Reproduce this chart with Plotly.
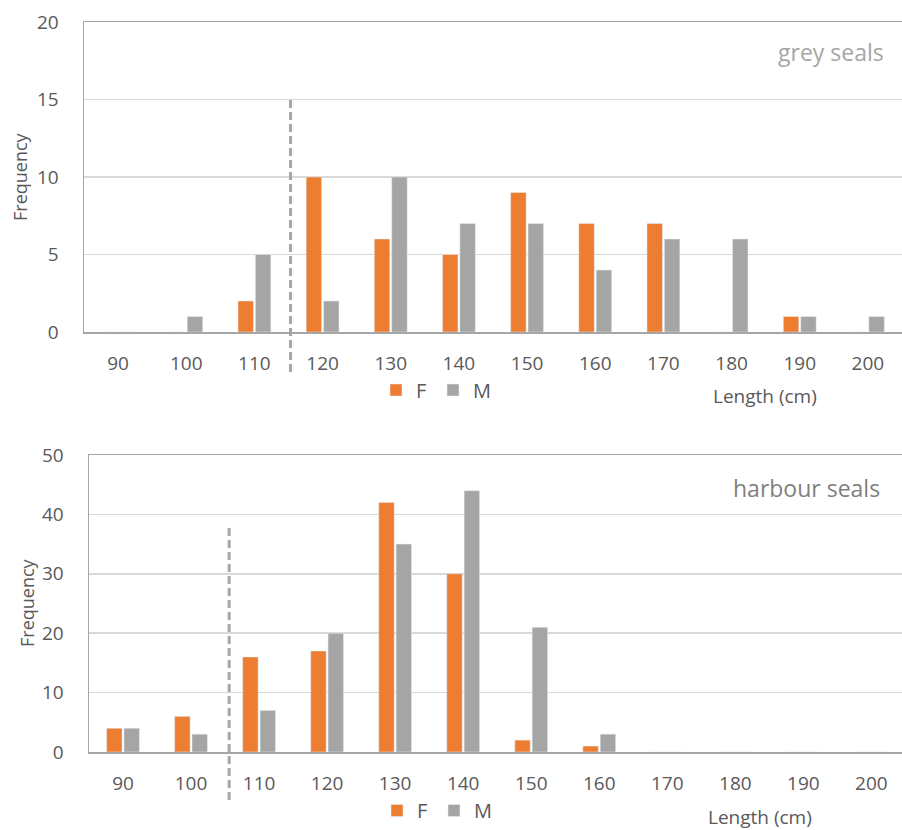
import plotly.graph_objects as go

lengths = ["90", "100", "110", "120", "130", "140", "150", "160", "170", "180", "190", "200"]
grey_F = [0, 0, 2, 10, 6, 5, 9, 7, 7, 0, 1, 0]
grey_M = [0, 1, 5, 2, 10, 7, 7, 4, 6, 6, 1, 1]
harb_F = [4, 6, 16, 17, 42, 30, 2, 1, 0, 0, 0, 0]
harb_M = [4, 3, 7, 20, 35, 44, 21, 3, 0, 0, 0, 0]

ORANGE = "#ED7D31"
GREY = "#A5A5A5"
TXT = "#595959"
FONT = "Open Sans"
W, H = 902, 830


def xp(px):
    return px / W


def yp(py):
    return 1 - py / H


fig = go.Figure()
fig.add_trace(go.Bar(x=lengths, y=grey_F, name="F", marker_color=ORANGE, xaxis="x", yaxis="y", legend="legend"))
fig.add_trace(go.Bar(x=lengths, y=grey_M, name="M", marker_color=GREY, xaxis="x", yaxis="y", legend="legend"))
fig.add_trace(go.Bar(x=lengths, y=harb_F, name="F", marker_color=ORANGE, xaxis="x2", yaxis="y2", legend="legend2"))
fig.add_trace(go.Bar(x=lengths, y=harb_M, name="M", marker_color=GREY, xaxis="x2", yaxis="y2", legend="legend2"))

xcommon = dict(
    type="category", showgrid=False, showline=True, mirror=True,
    linecolor="#A6A6A6", linewidth=1.5, ticks="", tickfont=dict(size=19, color=TXT, family=FONT),
    ticklabelstandoff=14, fixedrange=True, automargin=False,
)
ycommon = dict(
    showgrid=True, gridcolor="#D9D9D9", gridwidth=1.5, showline=True, linecolor="#A6A6A6",
    linewidth=1.5, zeroline=False, ticks="", tickfont=dict(size=19, color=TXT, family=FONT),
    ticklabelstandoff=20, fixedrange=True, automargin=False,
)
legcommon = dict(orientation="h", xanchor="center", font=dict(size=20, color=TXT, family=FONT),
                 itemwidth=30, entrywidth=12, bgcolor="rgba(0,0,0,0)", borderwidth=0)

fig.update_layout(
    width=W, height=H,
    margin=dict(l=0, r=0, t=0, b=0, autoexpand=False),
    paper_bgcolor="white", plot_bgcolor="white",
    font=dict(family=FONT, color=TXT),
    barmode="group", bargap=0.49, bargroupgap=0.11,
    xaxis=dict(xcommon, domain=[xp(84), 1.0], range=[-0.5, 11.5], anchor="y"),
    yaxis=dict(ycommon, domain=[yp(332), yp(22)], range=[0, 20], dtick=5, anchor="x"),
    xaxis2=dict(xcommon, domain=[xp(89), 1.0], range=[-0.5, 11.45], anchor="y2"),
    yaxis2=dict(ycommon, domain=[yp(752), yp(455)], range=[0, 50], dtick=10, anchor="x2"),
    legend=dict(legcommon, x=xp(433), y=yp(390), yanchor="middle"),
    legend2=dict(legcommon, x=xp(434), y=0.0, yanchor="bottom"),
    showlegend=True,
)

annotations = [
    dict(text="Frequency", x=xp(20), y=yp(177), xref="paper", yref="paper", textangle=-90,
         showarrow=False, font=dict(size=18, color=TXT, family=FONT), xanchor="center", yanchor="middle"),
    dict(text="Frequency", x=xp(27), y=yp(603), xref="paper", yref="paper", textangle=-90,
         showarrow=False, font=dict(size=18, color=TXT, family=FONT), xanchor="center", yanchor="middle"),
    dict(text="Length (cm)", x=xp(765), y=yp(396), xref="paper", yref="paper",
         showarrow=False, font=dict(size=19, color=TXT, family=FONT), xanchor="center", yanchor="middle"),
    dict(text="Length (cm)", x=xp(760), y=yp(817), xref="paper", yref="paper",
         showarrow=False, font=dict(size=19, color=TXT, family=FONT), xanchor="center", yanchor="middle"),
    dict(text="grey seals", x=xp(886), y=yp(52), xref="paper", yref="paper",
         showarrow=False, font=dict(size=23, color="#A6A6A6", family=FONT), xanchor="right", yanchor="middle"),
    dict(text="harbour seals", x=xp(882), y=yp(488), xref="paper", yref="paper",
         showarrow=False, font=dict(size=23, color="#7F7F7F", family=FONT), xanchor="right", yanchor="middle"),
]
fig.update_layout(annotations=annotations)

fig.add_shape(type="line", xref="x", yref="paper", x0=2.53, x1=2.53,
              y0=yp(372), y1=yp(100),
              line=dict(color="#A6A6A6", width=3, dash="8px,4px"))
fig.add_shape(type="line", xref="x2", yref="paper", x0=1.56, x1=1.56,
              y0=yp(800), y1=yp(528),
              line=dict(color="#A6A6A6", width=3, dash="8px,4px"))

fig.write_html(
    "out.html",
    config={"displayModeBar": False, "staticPlot": True},
    post_script="document.body.style.margin='0px';document.body.style.overflow='hidden';",
)
